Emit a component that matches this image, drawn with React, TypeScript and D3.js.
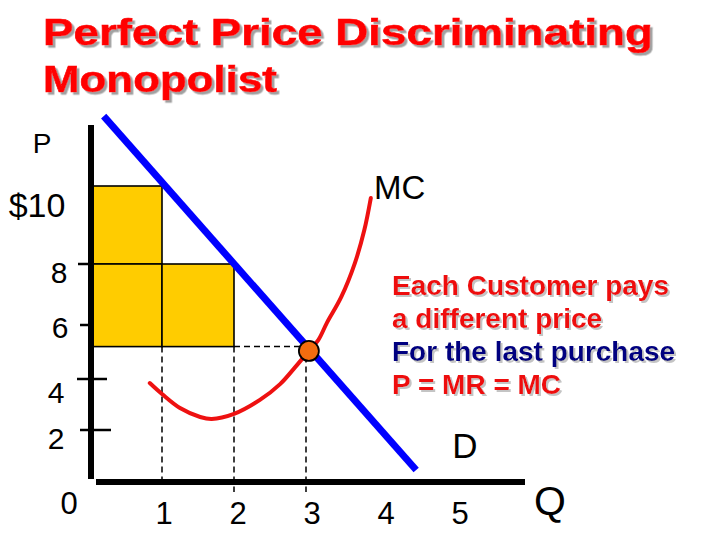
import React from "react";
import * as d3 from "d3";

// ---- data ----
const priceTicks = [10, 8, 6, 4, 2];
const priceTickLabels = ["$10", "8", "6", "4", "2"];
const quantityTicks = [0, 1, 2, 3, 4, 5];
const quantityTickLabels = ["0", "1", "2", "3", "4", "5"];

// demand line (Q, P)
const demandQ = [0.19, 4.53];
const demandP = [11.79, 0.46];

// marginal cost curve (Q, P)
const mcQ = [0.83, 1.0, 1.25, 1.53, 1.69, 2.0, 2.36, 2.64, 2.85, 3.04, 3.17, 3.29, 3.49, 3.68, 3.81, 3.9];
const mcP = [3.84, 3.41, 2.86, 2.51, 2.43, 2.63, 3.18, 3.8, 4.44, 5.04, 5.44, 6.07, 6.92, 8.03, 8.87, 9.69];

// price paid by each customer & equilibrium
const unitPrices = [10, 8];
const eqQ = 3;
const eqP = 5.2;
const dotQ = 3.04;
const dotP = 5.04;

const titleLines = ["Perfect Price Discriminating", "Monopolist"];
const noteLines = ["Each Customer pays", "a different price", "For the last purchase", "P = MR = MC"];

// ---- layout ----
const W = 720;
const H = 540;
const FONT = "'Liberation Sans', Arial, sans-serif";

const x = d3.scaleLinear().domain([0, 5]).range([90, 450]);
const y = d3
  .scaleLinear()
  .domain([0, 2, 4, 6, 8, 10])
  .range([482, 430, 379, 325, 264, 186]);

const yLabelLayout: Record<number, { dx: number; dy: number; size: number; t0: number; t1: number }> = {
  10: { dx: 37, dy: 31, size: 34, t0: 0, t1: 0 },
  8: { dx: 59, dy: 19, size: 30, t0: 78, t1: 90 },
  6: { dx: 60, dy: 13, size: 30, t0: 80, t1: 90 },
  4: { dx: 56, dy: 24, size: 30, t0: 77, t1: 107 },
  2: { dx: 56, dy: 19, size: 30, t0: 80, t1: 111 },
};

export default function App() {
  const demandPts: [number, number][] = demandQ.map((q, i) => [x(q), y(demandP[i])]);
  const mcPts: [number, number][] = mcQ.map((q, i) => [x(q), y(mcP[i])]);
  const line = d3.line();
  const curve = d3.line().curve(d3.curveCatmullRom.alpha(0.5));

  const rects = [
    { q0: 0, q1: 1, p0: unitPrices[1], p1: unitPrices[0] },
    { q0: 0, q1: 1, p0: eqP, p1: unitPrices[1] },
    { q0: 1, q1: 2, p0: eqP, p1: unitPrices[1] },
  ];

  return (
    <svg
      width={W}
      height={H}
      viewBox={`0 0 ${W} ${H}`}
      style={{ position: "fixed", left: 0, top: 0, background: "#fff" }}
    >
      <defs>
        <filter id="shTitle" x="-5%" y="-20%" width="110%" height="150%">
          <feDropShadow dx={2.5} dy={2.5} stdDeviation={0.4} floodColor="#a0a0a0" floodOpacity={1} />
        </filter>
        <filter id="shNote" x="-5%" y="-20%" width="110%" height="150%">
          <feDropShadow dx={2} dy={2} stdDeviation={0.4} floodColor="#c4c4c4" floodOpacity={1} />
        </filter>
      </defs>
      <rect x={0} y={0} width={W} height={H} fill="#fff" />

      {/* title */}
      <g filter="url(#shTitle)" fill="#ff0000" stroke="#ff0000" strokeWidth={0.6} fontSize={37} fontWeight="bold" fontFamily={FONT}>
        <text x={43} y={45} textLength={610} lengthAdjust="spacingAndGlyphs">
          {titleLines[0]}
        </text>
        <text x={43} y={92} textLength={234} lengthAdjust="spacingAndGlyphs">
          {titleLines[1]}
        </text>
      </g>

      {/* rectangles */}
      {rects.map((r, i) => (
        <rect
          key={i}
          x={x(r.q0)}
          y={y(r.p1)}
          width={x(r.q1) - x(r.q0)}
          height={y(r.p0) - y(r.p1)}
          fill="#ffcc00"
          stroke="#000"
          strokeWidth={1.6}
        />
      ))}

      {/* dashed guides */}
      <g stroke="#000" strokeWidth={1.5} strokeDasharray="6,4" fill="none">
        <line x1={x(1)} y1={y(eqP)} x2={x(1)} y2={y(0)} />
        <line x1={x(2)} y1={y(eqP)} x2={x(2)} y2={y(0) + 10} />
        <line x1={x(eqQ)} y1={y(eqP)} x2={x(eqQ)} y2={y(0) + 10} />
        <line x1={x(2)} y1={y(eqP)} x2={x(eqQ)} y2={y(eqP)} />
      </g>

      {/* axes */}
      <line x1={x(0) + 1} y1={125} x2={x(0) + 1} y2={479} stroke="#000" strokeWidth={6} />
      <line x1={96} y1={y(0)} x2={525} y2={y(0)} stroke="#000" strokeWidth={6} />

      {/* y ticks & labels */}
      {priceTicks.map((p, i) => {
        const L = yLabelLayout[p];
        return (
          <g key={p}>
            {L.t1 > 0 && (
              <line x1={L.t0} y1={y(p)} x2={L.t1} y2={y(p)} stroke="#000" strokeWidth={2.5} />
            )}
            <text
              x={L.dx}
              y={y(p) + L.dy}
              textAnchor="middle"
              fontSize={L.size}
              fontFamily={FONT}
              fill="#000"
            >
              {priceTickLabels[i]}
            </text>
          </g>
        );
      })}
      <text x={42} y={153} textAnchor="middle" fontSize={28} fontFamily={FONT} fill="#000">
        P
      </text>

      {/* x tick labels */}
      {quantityTicks.map((q, i) => (
        <text
          key={q}
          x={q === 0 ? 69 : x(q) + q * 2}
          y={q === 0 ? 514 : 524}
          textAnchor="middle"
          fontSize={31}
          fontFamily={FONT}
          fill="#000"
        >
          {quantityTickLabels[i]}
        </text>
      ))}
      <text x={550} y={515} textAnchor="middle" fontSize={41} fontFamily={FONT} fill="#000">
        Q
      </text>

      {/* demand */}
      <path d={line(demandPts) || ""} stroke="#0000ff" strokeWidth={7} fill="none" />
      <text x={465} y={458} textAnchor="middle" fontSize={35} fontFamily={FONT} fill="#000">
        D
      </text>

      {/* MC */}
      <path d={curve(mcPts) || ""} stroke="#ee1111" strokeWidth={4} fill="none" strokeLinecap="round" />
      <text x={374} y={199} fontSize={33} fontFamily={FONT} fill="#000">
        MC
      </text>

      {/* equilibrium dot */}
      <circle cx={x(dotQ)} cy={y(dotP)} r={10} fill="#f26c0f" stroke="#000" strokeWidth={1.8} />

      {/* note */}
      <g filter="url(#shNote)" fontSize={28} fontWeight="bold" fontFamily={FONT}>
        {noteLines.map((t, i) => (
          <text key={i} x={392} y={295 + i * 33} fill={i === 2 ? "#000080" : "#ee1111"}>
            {t}
          </text>
        ))}
      </g>
    </svg>
  );
}
